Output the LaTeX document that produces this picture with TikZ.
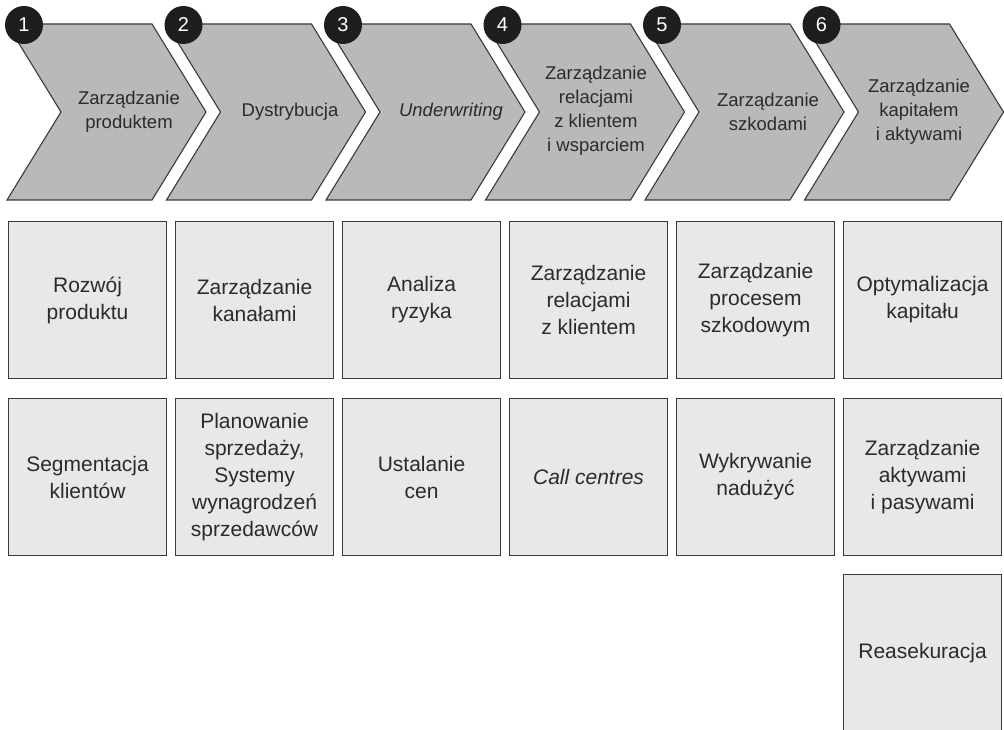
\documentclass[tikz,border=0pt]{standalone}
\usepackage{fontspec}
\setmainfont{Liberation Sans}
\definecolor{chev}{HTML}{B9B9B9}
\definecolor{boxf}{HTML}{E8E8E8}
\definecolor{edge}{HTML}{3A3A3A}
\definecolor{txt}{HTML}{2B2B2B}
\definecolor{dot}{HTML}{1E1E1E}
\begin{document}
\begin{tikzpicture}[x=1pt,y=-1pt,
  chevshape/.style={fill=chev,draw=edge,line width=1.1pt,line join=miter},
  chevtext/.style={text=txt,align=center,font=\fontsize{18.5}{24}\selectfont,inner sep=0pt},
  cell/.style={fill=boxf,draw=edge,line width=1.1pt,minimum width=158pt,minimum height=157pt,
    inner sep=0pt,anchor=north west,align=center,text=txt,font=\fontsize{21}{27}\selectfont},
  num/.style={circle,fill=dot,minimum size=38pt,inner sep=0pt,text=white,font=\fontsize{20}{20}\selectfont}]
\useasboundingbox (0,0) rectangle (1004,730);
% chevrons
\foreach \k in {0,...,5}{
  \pgfmathsetmacro\xo{7+159.5*\k}
  \draw[chevshape] (\xo,24) -- ++(145,0) -- ++(54,88) -- ++(-54,88) -- ++(-145,0) -- ++(54,-88) -- cycle;
}
% numbers
\node[num] (n1) at (24,25) {1};
\node[num] (n2) at (183.5,25) {2};
\node[num] (n3) at (343,25) {3};
\node[num] (n4) at (502.5,25) {4};
\node[num] (n5) at (662,25) {5};
\node[num] (n6) at (821.5,25) {6};
% chevron texts
\node[chevtext] (c1) at (129,112) {Zarządzanie\\produktem};
\node[chevtext] (c2) at (290,112) {Dystrybucja};
\node[chevtext] (c3) at (451,112) {\itshape Underwriting};
\node[chevtext] (c4) at (596,111) {Zarządzanie\\relacjami\\z klientem\\i wsparciem};
\node[chevtext] (c5) at (768,112) {Zarządzanie\\szkodami};
\node[chevtext] (c6) at (919,112) {Zarządzanie\\kapitałem\\i aktywami};
% row 1
\node[cell] (a1) at (8,221) {Rozwój\\produktu};
\node[cell] (a2) at (175,221) {Zarządzanie\\kanałami};
\node[cell] (a3) at (342,221) {Analiza\\ryzyka};
\node[cell] (a4) at (509,221) {Zarządzanie\\relacjami\\z klientem};
\node[cell] (a5) at (676,221) {Zarządzanie\\procesem\\szkodowym};
\node[cell] (a6) at (843,221) {Optymalizacja\\kapitału};
% row 2
\node[cell] (b1) at (8,398) {Segmentacja\\klientów};
\node[cell] (b2) at (175,398) {Planowanie\\sprzedaży,\\Systemy\\wynagrodzeń\\sprzedawców};
\node[cell] (b3) at (342,398) {Ustalanie\\cen};
\node[cell] (b4) at (509,398) {\itshape Call centres};
\node[cell] (b5) at (676,398) {Wykrywanie\\nadużyć};
\node[cell] (b6) at (843,398) {Zarządzanie\\aktywami\\i pasywami};
% row 3
\begin{scope}
\clip (0,0) rectangle (1004,730);
\node[cell] (r6) at (843,574) {Reasekuracja};
\end{scope}
\end{tikzpicture}
\end{document}
